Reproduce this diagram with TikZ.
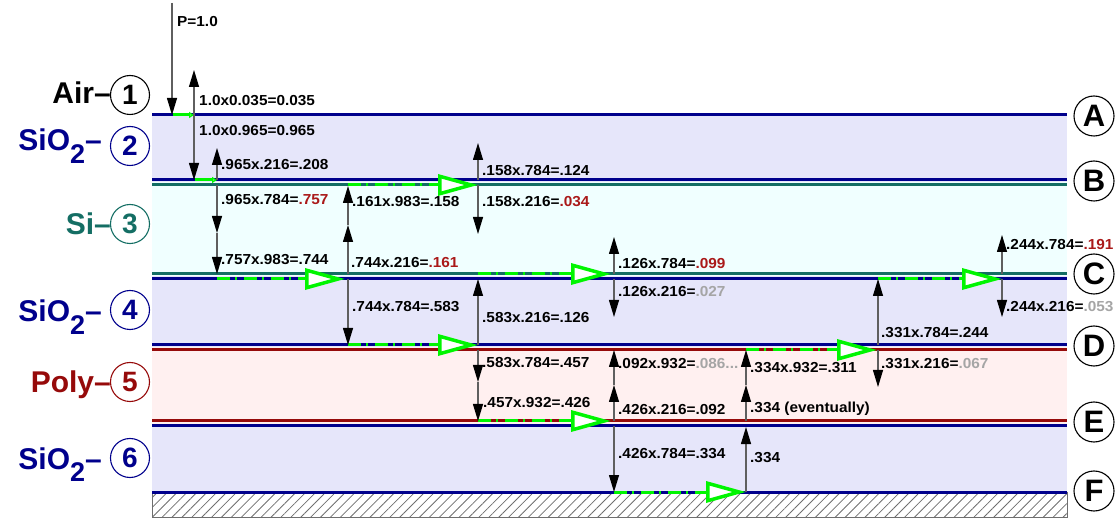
\documentclass[tikz,border=0pt]{standalone}
\usepackage{fontspec}
\setmainfont{Liberation Sans}
\usepackage{tikz}
\usetikzlibrary{arrows.meta,patterns.meta}
\usepackage{xcolor}

\definecolor{oxblue}{RGB}{0,0,140}
\definecolor{siteal}{RGB}{20,110,100}
\definecolor{polyred}{RGB}{150,10,10}
\definecolor{oxfill}{RGB}{230,230,250}
\definecolor{sifill}{RGB}{240,255,255}
\definecolor{polyfill}{RGB}{255,240,240}
\definecolor{rayline}{RGB}{95,95,95}
\definecolor{valred}{RGB}{170,25,25}
\definecolor{valgray}{RGB}{165,165,165}
\definecolor{flowgreen}{RGB}{0,245,0}
\definecolor{hatchgray}{RGB}{110,110,110}

\newcommand{\redval}[1]{\textcolor{valred}{#1}}
\newcommand{\grayval}[1]{\textcolor{valgray}{#1}}

\tikzset{
  ray/.style={rayline,line width=1.1pt,->},
  val/.style={anchor=base west,inner sep=0pt,xscale=1.06,font=\bfseries\fontsize{14.5}{16}\selectfont},
  flow/.style={flowgreen,line width=3pt,dash pattern=on 13pt off 5pt on 2pt off 7pt,
    -{Triangle[fill=white,length=40pt,width=21pt,line width=3.5pt]}},
  kick/.style={flowgreen,line width=3pt,-{Triangle[fill=white,length=5pt,width=6pt,line width=1.5pt]}},
  iface/.style={line width=3pt},
  mat/.style={anchor=base east,inner sep=0pt,font=\bfseries\fontsize{30}{30}\selectfont},
  tag/.style={circle,draw,line width=1.1pt,minimum size=39pt,inner sep=0pt,font=\bfseries\fontsize{28}{28}\selectfont},
  side/.style={circle,draw=black,line width=1.1pt,minimum size=40pt,inner sep=0pt,font=\bfseries\fontsize{31}{31}\selectfont},
}

\begin{document}
\begin{tikzpicture}[x=1pt,y=-1pt,>={Triangle[length=17pt,width=10pt,color=black]}]
\useasboundingbox (0,0) rectangle (1120,521);
% layers
\fill[oxfill] (152,115) rectangle (1067,182);
\fill[sifill] (152,182) rectangle (1067,276);
\fill[oxfill] (152,276) rectangle (1067,347);
\fill[polyfill] (152,347) rectangle (1067,424);
\fill[oxfill] (152,424) rectangle (1067,492);
\draw[hatchgray,line width=0.9pt,fill=white,pattern={Lines[angle=45,distance=7pt,line width=0.8pt]},pattern color=hatchgray]
  (152,492) rectangle (1067,517);
% interfaces
\draw[iface,oxblue] (152,115) -- (1067,115);
\draw[iface,oxblue] (152,180) -- (1067,180);
\draw[iface,siteal] (152,185) -- (1067,185);
\draw[iface,siteal] (152,274) -- (1067,274);
\draw[iface,oxblue] (152,279) -- (1067,279);
\draw[iface,oxblue] (152,345) -- (1067,345);
\draw[iface,polyred] (152,350) -- (1067,350);
\draw[iface,polyred] (152,421) -- (1067,421);
\draw[iface,oxblue] (152,426) -- (1067,426);
\draw[iface,oxblue] (152,492) -- (1067,492);

% sideways travel
\draw[kick] (173,115) -- (194,115);
\draw[kick] (195,180) -- (217,180);
\draw[flow] (217,279) -- (345,279);
\draw[flow] (348,185) -- (478,185);
\draw[flow] (348,345) -- (478,345);
\draw[flow] (478,274) -- (611,274);
\draw[flow] (478,421) -- (611,421);
\draw[flow] (614,492) -- (746,492);
\draw[flow] (746,350) -- (877,350);
\draw[flow] (878,279) -- (1002,279);

% up and down
\draw[ray] (172,3) -- (172,115);
\draw[ray] (194,115) -- (194,70);
\draw[ray] (194,115) -- (194,180);
\draw[ray] (217,180) -- (217,148);
\draw[ray] (217,185) -- (217,233);
\draw[ray] (217,233) -- (217,274);
\draw[ray] (348,274) -- (348,225);
\draw[ray] (348,225) -- (348,186);
\draw[ray] (348,279) -- (348,345);
\draw[ray] (478,180) -- (478,143);
\draw[ray] (478,185) -- (478,234);
\draw[ray] (478,345) -- (478,279);
\draw[ray] (478,350) -- (478,382);
\draw[ray] (478,382) -- (478,421);
\draw[ray] (614,274) -- (614,237);
\draw[ray] (614,279) -- (614,317);
\draw[ray] (614,421) -- (614,385);
\draw[ray] (614,385) -- (614,350);
\draw[ray] (614,426) -- (614,492);
\draw[ray] (746,492) -- (746,427);
\draw[ray] (746,421) -- (746,385);
\draw[ray] (746,385) -- (746,350);
\draw[ray] (878,345) -- (878,279);
\draw[ray] (878,350) -- (878,387);
\draw[ray] (1002,274) -- (1002,235);
\draw[ray] (1002,279) -- (1002,317);

% values
\node[val] (p0) at (177,27) {P=1.0};
\node[val] (v1) at (199,106) {1.0x0.035=0.035};
\node[val] (v2) at (199,136) {1.0x0.965=0.965};
\node[val] (v3) at (221,170) {.965x.216=.208};
\node[val] (v4) at (221,205) {.965x.784=\redval{.757}};
\node[val] (v5) at (221,265) {.757x.983=.744};
\node[val] (v6) at (352,207) {.161x.983=.158};
\node[val] (v7) at (351,268) {.744x.216=\redval{.161}};
\node[val] (v8) at (352,312) {.744x.784=.583};
\node[val] (v9) at (482,176) {.158x.784=.124};
\node[val] (v10) at (482,207) {.158x.216=\redval{.034}};
\node[val] (v11) at (482,323) {.583x.216=.126};
\node[val] (v12) at (482,368) {.583x.784=.457};
\node[val] (v13) at (483,408) {.457x.932=.426};
\node[val] (v14) at (618,269) {.126x.784=\redval{.099}};
\node[val] (v15) at (618,297) {.126x.216=\grayval{.027}};
\node[val] (v16) at (618,369) {.092x.932=\grayval{.086...}};
\node[val] (v17) at (618,415) {.426x.216=.092};
\node[val] (v18) at (618,458) {.426x.784=.334};
\node[val] (v19) at (750,373) {.334x.932=.311};
\node[val] (v20) at (750,413) {.334 (eventually)};
\node[val] (v21) at (750,463) {.334};
\node[val] (v22) at (881,338) {.331x.784=.244};
\node[val] (v23) at (881,369) {.331x.216=\grayval{.067}};
\node[val] (v24) at (1006,250) {.244x.784=\redval{.191}};
\node[val] (v25) at (1006,312) {.244x.216=\grayval{.053}};

% materials
\node[mat] (air) at (111,104) {Air--};
\node[tag] (n1) at (130,95) {1};
\node[mat,oxblue] (ox2) at (102,151) {SiO\raisebox{-13pt}{\fontsize{27}{27}\selectfont 2}--};
\node[tag,oxblue] (n2) at (130,146) {2};
\node[mat,siteal] (si3) at (111,235) {Si--};
\node[tag,siteal] (n3) at (130,224) {3};
\node[mat,oxblue] (ox4) at (102,322) {SiO\raisebox{-13pt}{\fontsize{27}{27}\selectfont 2}--};
\node[tag,oxblue] (n4) at (130,310) {4};
\node[mat,polyred] (po5) at (111,393) {Poly--};
\node[tag,polyred] (n5) at (130,382) {5};
\node[mat,oxblue] (ox6) at (102,469) {SiO\raisebox{-13pt}{\fontsize{27}{27}\selectfont 2}--};
\node[tag,oxblue] (n6) at (130,458) {6};

% interface letters
\node[side] (ifA) at (1094,116) {A};
\node[side] (ifB) at (1094,181) {B};
\node[side] (ifC) at (1094,274) {C};
\node[side] (ifD) at (1094,346) {D};
\node[side] (ifE) at (1094,422) {E};
\node[side] (ifF) at (1094,491) {F};
\end{tikzpicture}
\end{document}
